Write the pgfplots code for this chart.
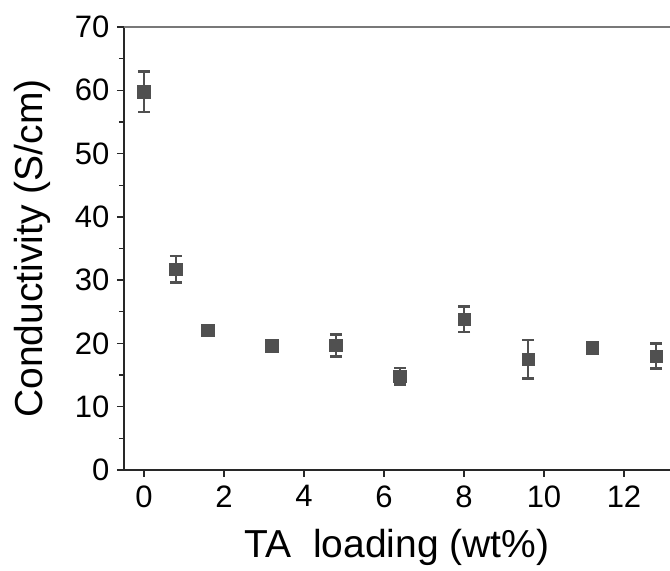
\documentclass[border=0pt]{standalone}
\usepackage{fontspec}
\setmainfont{Liberation Sans}
\usepackage{pgfplots}
\pgfplotsset{compat=1.18}
\definecolor{mk}{RGB}{80,80,80}
\definecolor{ax}{RGB}{40,40,40}
\definecolor{topl}{RGB}{120,120,120}
\begin{document}
\begin{tikzpicture}
\begin{axis}[
  scale only axis,
  width=546pt, height=443pt,
  xmin=-0.5, xmax=13.15,
  ymin=0, ymax=70,
  axis x line*=bottom,
  axis y line*=left,
  axis line style={-, line width=1.3pt, ax},
  tick style={line width=1.3pt, ax},
  tick align=outside,
  major tick length=7pt,
  minor tick length=5pt,
  xtick={0,2,...,12},
  ytick={0,10,...,70},
  minor y tick num=1,
  /pgf/number format/assume math mode=true,
  ticklabel style={font=\fontsize{31}{33}\selectfont, text=black},
  xticklabel style={yshift=-5pt},
  yticklabel style={xshift=-4pt},
  every axis x label/.style={at={(axis description cs:0.5,0)}, anchor=base, yshift=-88pt},
  every axis y label/.style={at={(axis description cs:-0.1484,0.5)}, rotate=90, anchor=base},
  label style={font=\fontsize{39}{41}\selectfont},
  xlabel={TA\ \ loading (wt\%)},
  ylabel={Conductivity (S/cm)},
  clip=false,
]
\addplot[only marks, mark=square*, mark size=6.3pt, color=mk,
  mark options={fill=mk, draw=mk},
  error bars/.cd, y dir=both, y explicit,
  error bar style={line width=2.6pt, mk},
  error mark options={line width=2.6pt, mk, mark size=6pt, rotate=90}]
  table[x=x, y=y, y error=e] {
x     y     e
0     59.8  3.2
0.8   31.7  2.1
1.6   22.1  0.8
3.2   19.6  0.9
4.8   19.7  1.75
6.4   14.8  1.3
8.0   23.8  2.0
9.6   17.5  3.05
11.2  19.3  0.8
12.8  18.0  2.0
};
\end{axis}
\draw[line width=1.3pt, topl] (current axis.north west) -- (current axis.north east);
\pgfresetboundingbox
\path[use as bounding box] ([shift={(-124pt,-101pt)}]current axis.south west) rectangle ([shift={(0pt,27pt)}]current axis.north east);
\end{tikzpicture}
\end{document}
